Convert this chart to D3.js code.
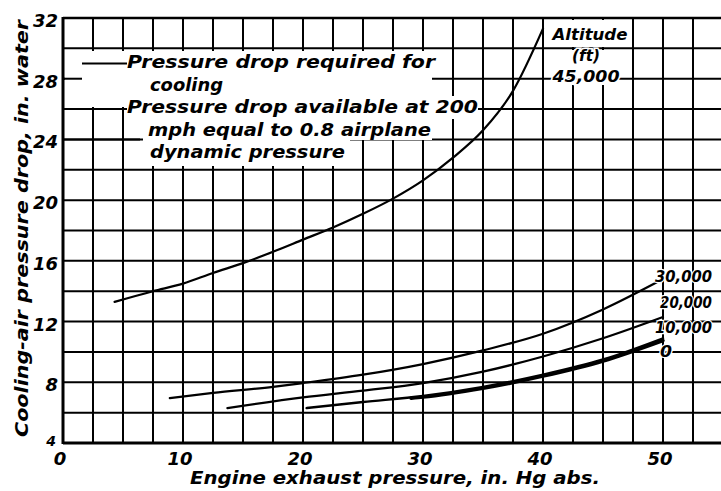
<!DOCTYPE html>
<html>
<head>
<meta charset="utf-8">
<script src="https://cdn.jsdelivr.net/npm/d3@7"></script>
<style>
  body { margin: 0; background: #fff; }
  svg { display: block; }
  text { font-family: 'DejaVu Sans', sans-serif; font-style: italic; font-weight: bold; fill: #000; }
</style>
</head>
<body>
<svg></svg>
<script>
const width = 721;
const height = 491;

// curve data (x = exhaust pressure in. Hg, y = pressure drop in. water)
const exhaust45 = [4.3, 7.5, 10, 12.5, 15, 17.5, 20, 22.5, 25, 27.5, 30, 32.5, 35, 37.5, 40];
const drop45    = [13.3, 14.0, 14.5, 15.2, 15.85, 16.6, 17.4, 18.2, 19.1, 20.1, 21.3, 22.8, 24.6, 27.2, 31.3];

const exhaust30 = [8.9, 12.5, 17.5, 20, 25, 30, 35, 40, 45, 50];
const drop30    = [6.96, 7.3, 7.7, 7.95, 8.5, 9.2, 10.1, 11.2, 12.8, 14.8];

const exhaust20 = [13.7, 20, 25, 30, 35, 40, 45, 50];
const drop20    = [6.3, 7.0, 7.45, 7.95, 8.7, 9.7, 10.9, 12.3];

const exhaust10 = [20.3, 25, 30, 35, 40, 45, 50];
const drop10    = [6.3, 6.7, 7.1, 7.7, 8.5, 9.5, 10.9];

const exhaust0  = [29, 30, 35, 40, 45, 50];
const drop0     = [6.95, 7.02, 7.6, 8.4, 9.4, 10.75];

const xTicks = [0, 10, 20, 30, 40, 50];
const yTicks = [4, 8, 12, 16, 20, 24, 28, 32];

const legendLines = [
  'Pressure drop required for',
  'cooling',
  'Pressure drop available at 200',
  'mph equal to 0.8 airplane',
  'dynamic pressure'
];
const altitudeLabels = ['30,000', '20,000', '10,000', '0'];

const svg = d3.select('svg')
  .attr('width', width)
  .attr('height', height);

const x = d3.scaleLinear()
  .domain([0, 52.5])
  .range([63, 693]);

const y = d3.scaleLinear()
  .domain([4, 32])
  .range([443, 18]);

const g = svg.append('g');

// grid
g.selectAll('.vgrid')
  .data(d3.range(2.5, 52.6, 2.5))
  .enter()
  .append('line')
  .attr('x1', d => x(d))
  .attr('x2', d => x(d))
  .attr('y1', y(32))
  .attr('y2', y(4))
  .attr('stroke', '#000')
  .attr('stroke-width', 2);

g.selectAll('.hgrid')
  .data(d3.range(6, 32.1, 2))
  .enter()
  .append('line')
  .attr('x1', x(0))
  .attr('x2', width)
  .attr('y1', d => y(d))
  .attr('y2', d => y(d))
  .attr('stroke', '#000')
  .attr('stroke-width', 2);

// axes frame
g.append('line')
  .attr('x1', x(0)).attr('x2', x(0))
  .attr('y1', y(32) - 1).attr('y2', y(4) + 1)
  .attr('stroke', '#000').attr('stroke-width', 3);
g.append('line')
  .attr('x1', x(0)).attr('x2', width)
  .attr('y1', y(4)).attr('y2', y(4))
  .attr('stroke', '#000').attr('stroke-width', 3);
g.append('line')
  .attr('x1', x(0)).attr('x2', width)
  .attr('y1', y(32)).attr('y2', y(32))
  .attr('stroke', '#000').attr('stroke-width', 2.5);

// white areas cleared behind the legend and altitude heading
const masks = [
  [65, 51, 367, 56],
  [127, 96, 351, 23],
  [140, 107, 292, 33],
  [140, 138, 210, 28],
  [548, 20, 83, 27],
  [548, 50, 83, 27],
  [548, 80, 83, 5]
];
g.selectAll('.mask')
  .data(masks)
  .enter()
  .append('rect')
  .attr('x', d => d[0])
  .attr('y', d => d[1])
  .attr('width', d => d[2])
  .attr('height', d => d[3])
  .attr('fill', '#fff');

// legend strokes and the grid stubs left beside the legend
const stubs = [
  [82, 127, y(29.0)],
  [x(0), 82, y(28)],
  [x(0), 127, y(26)],
  [x(0), 143, y(24)]
];
g.selectAll('.stub')
  .data(stubs)
  .enter()
  .append('line')
  .attr('x1', d => d[0])
  .attr('x2', d => d[1])
  .attr('y1', d => d[2])
  .attr('y2', d => d[2])
  .attr('stroke', '#000')
  .attr('stroke-width', 2);

// curves
const line = d3.line()
  .x(d => x(d[0]))
  .y(d => y(d[1]))
  .curve(d3.curveMonotoneX);

const curves = [
  [exhaust45, drop45, 2.2],
  [exhaust30, drop30, 2.2],
  [exhaust20, drop20, 2.2],
  [exhaust10, drop10, 2.4],
  [exhaust0, drop0, 3.4]
];

g.selectAll('.curve')
  .data(curves)
  .enter()
  .append('path')
  .attr('d', d => line(d3.zip(d[0], d[1])))
  .attr('fill', 'none')
  .attr('stroke', '#000')
  .attr('stroke-width', d => d[2])
  .attr('stroke-linecap', 'round');

// legend text
const legendX = [127, 150, 127, 148, 150];
const legendY = [68, 91, 113, 136, 158];
const legendLen = [308, 73, 351, 283, 195];
g.selectAll('.legend')
  .data(legendLines)
  .enter()
  .append('text')
  .attr('x', (d, i) => legendX[i])
  .attr('y', (d, i) => legendY[i])
  .attr('font-size', 17)
  .attr('textLength', (d, i) => legendLen[i])
  .attr('lengthAdjust', 'spacingAndGlyphs')
  .text(d => d);

// altitude heading
const head = [['Altitude', 590, 40, 75], ['(ft)', 586, 61, 28], ['45,000', 586, 82, 67]];
g.selectAll('.head')
  .data(head)
  .enter()
  .append('text')
  .attr('x', d => d[1])
  .attr('y', d => d[2])
  .attr('text-anchor', 'middle')
  .attr('font-size', 15)
  .attr('textLength', d => d[3])
  .attr('lengthAdjust', 'spacingAndGlyphs')
  .style('paint-order', 'stroke')
  .style('stroke', '#fff')
  .style('stroke-width', 3)
  .text(d => d[0]);

// labels at curve ends
const altX = [655, 660, 655, 660];
const altY = [282, 308, 333, 357];
const altLen = [57, 52, 57, 12];
g.selectAll('.alt')
  .data(altitudeLabels)
  .enter()
  .append('text')
  .attr('x', (d, i) => altX[i])
  .attr('y', (d, i) => altY[i])
  .attr('font-size', 16)
  .attr('textLength', (d, i) => altLen[i])
  .attr('lengthAdjust', 'spacingAndGlyphs')
  .style('paint-order', 'stroke')
  .style('stroke', '#fff')
  .style('stroke-width', 2.5)
  .text(d => d);

// tick labels
g.selectAll('.xtick')
  .data(xTicks)
  .enter()
  .append('text')
  .attr('x', d => x(d) - 3)
  .attr('y', 465)
  .attr('text-anchor', 'middle')
  .attr('font-size', 18)
  .text(d => d);

g.selectAll('.ytick')
  .data(yTicks.filter(d => d > 4))
  .enter()
  .append('text')
  .attr('x', 58)
  .attr('y', d => y(d) + 9)
  .attr('text-anchor', 'end')
  .attr('font-size', 18)
  .text(d => d);

g.append('text')
  .attr('x', 56)
  .attr('y', 446)
  .attr('text-anchor', 'end')
  .attr('font-size', 14)
  .text(yTicks[0]);

// axis titles
g.append('text')
  .attr('x', 190)
  .attr('y', 484)
  .attr('font-size', 17)
  .attr('textLength', 410)
  .attr('lengthAdjust', 'spacingAndGlyphs')
  .text('Engine exhaust pressure, in. Hg abs.');

g.append('text')
  .attr('transform', 'translate(28,437) rotate(-90)')
  .attr('font-size', 18)
  .attr('textLength', 417)
  .attr('lengthAdjust', 'spacingAndGlyphs')
  .text('Cooling-air pressure drop, in. water');
</script>
</body>
</html>
